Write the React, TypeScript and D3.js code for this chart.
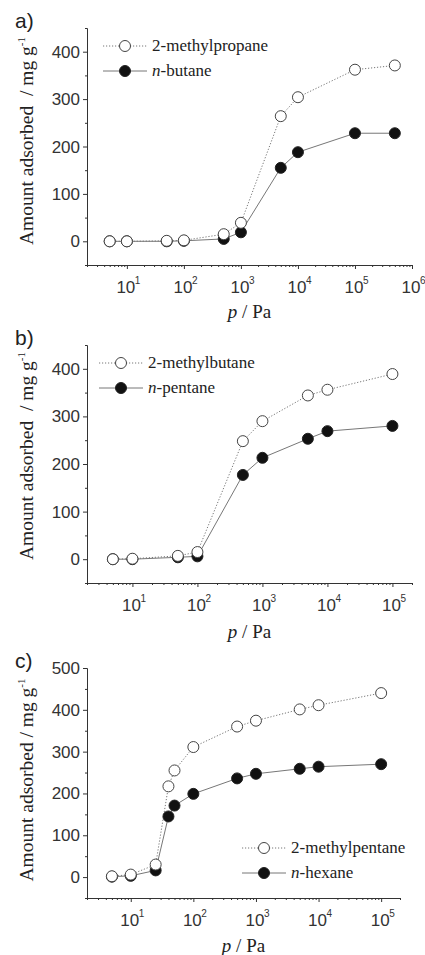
import React, { useEffect, useRef } from "react";
import * as d3 from "d3";

// panel a) C4 isomers
const pressureA = [5, 10, 50, 100, 500, 1000, 5000, 10000, 100000, 500000];
const methylpropane = [0, 0, 1, 2, 15, 39, 264, 304, 362, 371];
const nButane = [0, 0, 0, 1, 5, 19, 155, 188, 228, 228];

// panel b) C5 isomers
const pressureB = [5, 10, 50, 100, 500, 1000, 5000, 10000, 100000];
const methylbutane = [0, 1, 7, 15, 248, 290, 344, 356, 389];
const nPentane = [0, 0, 4, 6, 177, 213, 253, 269, 280];

// panel c) C6 isomers
const pressureC = [5, 10, 25, 40, 50, 100, 500, 1000, 5000, 10000, 100000];
const methylpentane = [2, 6, 30, 217, 255, 311, 360, 374, 401, 411, 440];
const nHexane = [1, 3, 16, 145, 171, 199, 236, 247, 259, 264, 270];

const decadesAB = [1, 2, 3, 4, 5, 6];
const decadesBC = [1, 2, 3, 4, 5];
const yTicksAB = [0, 100, 200, 300, 400];
const yTicksC = [0, 100, 200, 300, 400, 500];

const SANS = "Liberation Sans";
const SERIF = "Liberation Serif";
const AXIS = "#333";
const LINE = "#777";

function Panel(props) {
  const ref = useRef(null);
  const p = props;

  useEffect(() => {
    const g = d3.select(ref.current);
    g.selectAll("*").remove();

    const x = d3.scaleLog().domain(p.xDomain).range([p.left, p.right]);
    const y = d3.scaleLinear().domain(p.yDomain).range([p.bottom, p.top]);

    // minor log ticks
    const minor = [];
    for (let e = 0; e <= 6; e++) {
      for (let m = 2; m <= 9; m++) {
        const v = m * Math.pow(10, e);
        if (v >= p.xDomain[0] && v <= p.xDomain[1]) minor.push(v);
      }
    }
    const major = p.decades.map(d => Math.pow(10, d)).filter(v => v <= p.xDomain[1]);

    const xg = g.append("g").attr("transform", "translate(0," + p.bottom + ")");
    xg.call(d3.axisBottom(x).tickValues(minor).tickSize(2).tickSizeOuter(0).tickFormat(() => ""));
    xg.append("g").call(d3.axisBottom(x).tickValues(major).tickSize(4).tickSizeOuter(0).tickFormat(() => ""));
    xg.selectAll("path").attr("stroke", AXIS);
    xg.selectAll("line").attr("stroke", AXIS);

    const yMinor = d3.range(p.yDomain[0], p.yDomain[1] + 1, 50).filter(v => v % 100 !== 0);
    const yg = g.append("g").attr("transform", "translate(" + p.left + ",0)");
    yg.call(d3.axisLeft(y).tickValues(yMinor).tickSize(2).tickSizeOuter(0).tickFormat(() => ""));
    yg.append("g").call(d3.axisLeft(y).tickValues(p.yTicks).tickSize(4).tickSizeOuter(0).tickFormat(() => ""));
    yg.selectAll("path").attr("stroke", AXIS);
    yg.selectAll("line").attr("stroke", AXIS);

    // y tick labels
    g.selectAll(".ylab")
      .data(p.yTicks)
      .enter()
      .append("text")
      .attr("x", p.left - 7)
      .attr("y", d => y(d) + 6)
      .attr("text-anchor", "end")
      .attr("font-family", SANS)
      .attr("font-size", 17)
      .attr("fill", AXIS)
      .text(d => d);

    // x tick labels 10^n
    const xl = g.selectAll(".xlab").data(major).enter().append("g");
    xl.append("text")
      .attr("x", d => x(d) - 1)
      .attr("y", p.bottom + 28)
      .attr("text-anchor", "middle")
      .attr("font-family", SANS)
      .attr("font-size", 17)
      .attr("fill", AXIS)
      .text("10");
    xl.append("text")
      .attr("x", d => x(d) + 8)
      .attr("y", p.bottom + 19)
      .attr("font-family", SANS)
      .attr("font-size", 10)
      .attr("fill", AXIS)
      .text(d => Math.round(Math.log10(d)));

    const line = d3.line().x(d => x(d[0])).y(d => y(d[1]));
    const filled = p.xs.map((v, i) => [v, p.filled[i]]);
    const open = p.xs.map((v, i) => [v, p.open[i]]);

    g.append("path").attr("d", line(filled)).attr("fill", "none").attr("stroke", LINE).attr("stroke-width", 1);
    g.append("path").attr("d", line(open)).attr("fill", "none").attr("stroke", LINE)
      .attr("stroke-width", 1).attr("stroke-dasharray", "1.2,1.8");

    g.selectAll(".fdot").data(filled).enter().append("circle")
      .attr("cx", d => x(d[0])).attr("cy", d => y(d[1])).attr("r", 5.5)
      .attr("fill", "#111").attr("stroke", "#222");
    g.selectAll(".odot").data(open).enter().append("circle")
      .attr("cx", d => x(d[0])).attr("cy", d => y(d[1])).attr("r", 5.5)
      .attr("fill", "#fff").attr("stroke", "#444").attr("stroke-width", 1);

    // legend
    const lx = p.legend[0], ly = p.legend[1];
    g.append("line").attr("x1", lx - 22).attr("x2", lx + 22).attr("y1", ly).attr("y2", ly)
      .attr("stroke", LINE).attr("stroke-dasharray", "1.2,1.8");
    g.append("circle").attr("cx", lx).attr("cy", ly).attr("r", 5.5).attr("fill", "#fff").attr("stroke", "#444");
    g.append("text").attr("x", lx + 27).attr("y", ly + 5).attr("font-family", SERIF).attr("font-size", 17)
      .attr("fill", "#222").text(p.openName);

    g.append("line").attr("x1", lx - 22).attr("x2", lx + 22).attr("y1", ly + 25).attr("y2", ly + 25)
      .attr("stroke", LINE);
    g.append("circle").attr("cx", lx).attr("cy", ly + 25).attr("r", 5.5).attr("fill", "#111").attr("stroke", "#222");
    const t = g.append("text").attr("x", lx + 27).attr("y", ly + 30).attr("font-family", SERIF)
      .attr("font-size", 17).attr("fill", "#222");
    t.append("tspan").attr("font-style", "italic").text("n");
    t.append("tspan").text("-" + p.filledName);
  }, []);

  const cx = (p.left + p.right) / 2;
  return (
    <g>
      <text x={15} y={p.top} fontFamily={SANS} fontSize={21} fill="#222">{p.tag}</text>
      <text
        transform={"translate(33," + p.yLabelMid + ") rotate(-90)"}
        textAnchor="middle"
        fontFamily={SERIF}
        fontSize={19.5}
        fill="#222"
        style={{ whiteSpace: "pre" }}
      >
        {p.yLabel}
        <tspan fontSize={11} dy={-8}>-1</tspan>
      </text>
      <text x={cx} y={p.xLabelY} textAnchor="middle" fontFamily={SERIF} fontSize={19} fill="#222">
        <tspan fontStyle="italic">p</tspan> / Pa
      </text>
      <g ref={ref} />
    </g>
  );
}

export default function App() {
  return (
    <svg width={425} height={955} style={{ position: "absolute", left: 0, top: 0, background: "#fff" }}>
      <Panel
        tag="a)"
        left={87} right={412} top={28} bottom={265}
        xDomain={[2, 1e6]} yDomain={[-50, 450]}
        decades={decadesAB} yTicks={yTicksAB}
        xs={pressureA} open={methylpropane} filled={nButane}
        openName="2-methylpropane" filledName="butane"
        legend={[125, 46]}
        yLabel={"Amount adsorbed  / mg g"} yLabelMid={141} xLabelY={318}
      />
      <Panel
        tag="b)"
        left={87} right={412} top={345} bottom={583}
        xDomain={[2, 2e5]} yDomain={[-50, 450]}
        decades={decadesBC} yTicks={yTicksAB}
        xs={pressureB} open={methylbutane} filled={nPentane}
        openName="2-methylbutane" filledName="pentane"
        legend={[121, 363]}
        yLabel={"Amount adsorbed  / mg g"} yLabelMid={456} xLabelY={638}
      />
      <Panel
        tag="c)"
        left={87} right={400} top={668} bottom={898}
        xDomain={[2, 2e5]} yDomain={[-50, 500]}
        decades={decadesBC} yTicks={yTicksC}
        xs={pressureC} open={methylpentane} filled={nHexane}
        openName="2-methylpentane" filledName="hexane"
        legend={[264, 848]}
        yLabel={"Amount adsorbed / mg g"} yLabelMid={780} xLabelY={952}
      />
    </svg>
  );
}
